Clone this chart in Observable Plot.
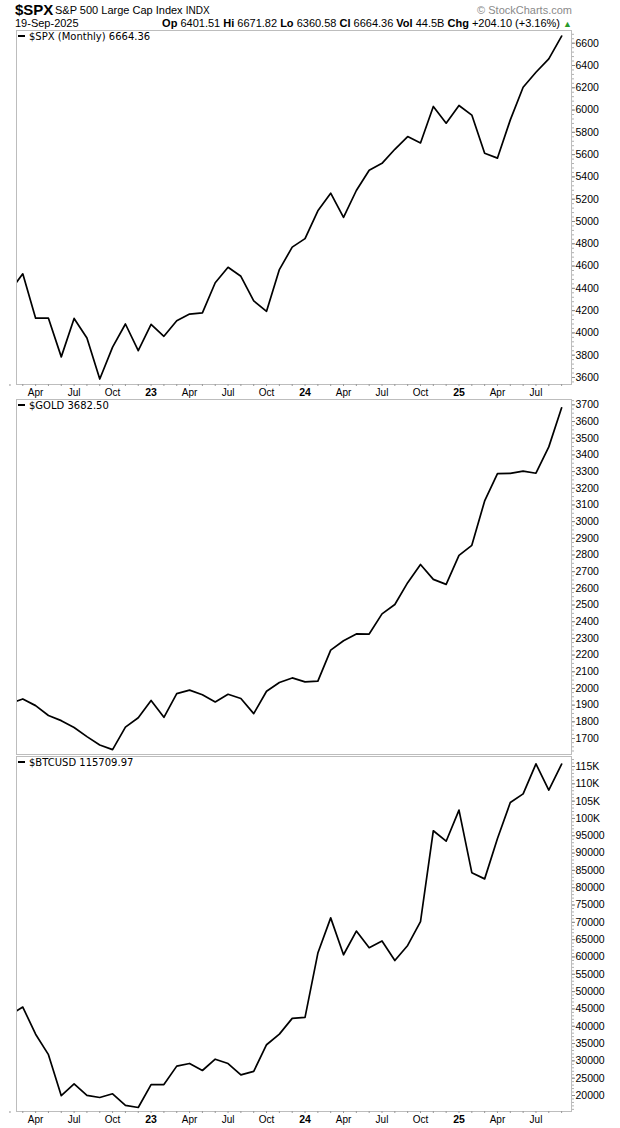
<!DOCTYPE html>
<html><head><meta charset="utf-8">
<script src="https://cdn.jsdelivr.net/npm/d3@7"></script>
<script src="https://cdn.jsdelivr.net/npm/@observablehq/plot@0.6"></script>
<style>
body{margin:0;background:#fff;width:620px;height:1128px;position:relative;overflow:hidden;font-family:"Liberation Sans",Arial,sans-serif;color:#000;}
.a{position:absolute;white-space:nowrap;line-height:1;}
.leg{font-family:"DejaVu Sans",sans-serif;font-size:10px;background:#fff;}
.leg b{display:inline-block;width:7px;height:2px;background:#000;vertical-align:middle;margin-right:4px;position:relative;top:-1px;}
</style></head><body>
<div class="a" style="left:15px;top:2px;font-weight:bold;font-size:15px;line-height:15px;">$SPX</div>
<div class="a" style="left:55px;top:5px;font-size:11px;">S&amp;P 500 Large Cap Index <span style="font-size:10px">INDX</span></div>
<div class="a" style="right:48px;top:5px;font-size:11px;color:#8a8a8a;">© StockCharts.com</div>
<div class="a" style="left:15px;top:18px;font-size:11px;">19-Sep-2025</div>
<div class="a" style="right:48px;top:18px;font-size:11px;"><b>Op</b> 6401.51 <b>Hi</b> 6671.82 <b>Lo</b> 6360.58 <b>Cl</b> 6664.36 <b>Vol</b> 44.5B <b>Chg</b> +204.10 (+3.16%) <span style="color:#2a9a2a;font-size:9px">▲</span></div>
<div id="p1" class="a" style="left:0;top:29px;"></div>
<div id="p2" class="a" style="left:0;top:398px;"></div>
<div id="p3" class="a" style="left:0;top:755px;"></div>
<div class="a leg" style="left:18px;top:32px;"><b></b>$SPX (Monthly) 6664.36</div>
<div class="a leg" style="left:18px;top:401px;"><b></b>$GOLD 3682.50</div>
<div class="a leg" style="left:18px;top:758px;"><b></b>$BTCUSD 115709.97</div>
<script>
// Monthly closes, Feb 2022 .. Sep 2025 (index 0 = Feb 2022)
const months = ["2022-02","2022-03","2022-04","2022-05","2022-06","2022-07","2022-08","2022-09","2022-10","2022-11","2022-12",
"2023-01","2023-02","2023-03","2023-04","2023-05","2023-06","2023-07","2023-08","2023-09","2023-10","2023-11","2023-12",
"2024-01","2024-02","2024-03","2024-04","2024-05","2024-06","2024-07","2024-08","2024-09","2024-10","2024-11","2024-12",
"2025-01","2025-02","2025-03","2025-04","2025-05","2025-06","2025-07","2025-08","2025-09"];
const spx = [4374,4530,4132,4132,3785,4130,3955,3586,3872,4080,3840,
4077,3970,4109,4169,4180,4450,4589,4508,4288,4194,4568,4770,
4846,5096,5254,5036,5278,5460,5522,5648,5762,5705,6032,5882,
6041,5955,5612,5569,5912,6205,6339,6460,6664];
const gold = [1909,1937,1897,1838,1807,1766,1711,1661,1633,1768,1824,
1928,1827,1969,1990,1962,1919,1965,1940,1849,1983,2036,2063,
2039,2044,2230,2286,2327,2326,2447,2503,2634,2743,2654,2624,
2798,2858,3124,3288,3289,3303,3290,3448,3682];
const btc = [43190,45540,37700,31800,19930,23330,20050,19430,20500,17170,16540,
23140,23150,28480,29250,27220,30480,29230,25940,26970,34660,37720,42270,
42580,61130,71290,60640,67490,62680,64620,58970,63330,70220,96450,93430,
102400,84350,82550,94200,104600,107100,115750,108200,115710];
const xTickIdx = [2,5,8,11,14,17,20,23,26,29,32,35,38,41];
const xTickLabels = ["Apr","Jul","Oct","23","Apr","Jul","Oct","24","Apr","Jul","Oct","25","Apr","Jul"];
const spxTicks = [3600,3800,4000,4200,4400,4600,4800,5000,5200,5400,5600,5800,6000,6200,6400,6600];
const goldTicks = [1700,1800,1900,2000,2100,2200,2300,2400,2500,2600,2700,2800,2900,3000,3100,3200,3300,3400,3500,3600,3700];
const btcTicks = [20000,25000,30000,35000,40000,45000,50000,55000,60000,65000,70000,75000,80000,85000,90000,95000,100000,105000,110000,115000];

const xDomain = [0.51, 43.77];
const W = 620, ML = 16, MR = 49;
const FF = "Liberation Sans, Arial, sans-serif";

function panel(el, values, yDomain, yTicks, minorStep, fmt, frameH, showX) {
  const data = values.map((v, i) => ({i, v, m: months[i]}));
  const monthIdx = months.map((m, i) => i);
  const yearSet = new Set(["23","24","25"]);
  const lab = new Map(xTickIdx.map((d, k) => [d, xTickLabels[k]]));
  const minor = d3.range(Math.ceil(yDomain[0] / minorStep) * minorStep, yDomain[1], minorStep);
  const marks = [
    Plot.line(data, {x: "i", y: "v", stroke: "#000", strokeWidth: 1.7, clip: true}),
    Plot.frame({stroke: "#bdbdbd"}),
    Plot.axisY({anchor: "right", ticks: minor, tickSize: 2, stroke: "#b0b0b0", tickFormat: () => "", label: null}),
    Plot.axisY({anchor: "right", ticks: yTicks, tickSize: 3, tickPadding: 1, stroke: "#888", tickFormat: fmt,
      fontSize: 10.5, fontFamily: FF, fill: "#000", label: null}),
    Plot.axisX({ticks: monthIdx, tickSize: showX ? 2 : 0, stroke: "#999", tickFormat: () => "", label: null})
  ];
  if (showX) {
    marks.push(Plot.axisX({ticks: xTickIdx.filter(d => !yearSet.has(lab.get(d))), tickSize: 0, tickPadding: 4,
      tickFormat: d => lab.get(d), fontSize: 10, fontFamily: FF, fill: "#000", label: null}));
    marks.push(Plot.axisX({ticks: xTickIdx.filter(d => yearSet.has(lab.get(d))), tickSize: 0, tickPadding: 4,
      tickFormat: d => lab.get(d), fontSize: 10.5, fontWeight: "bold", fontFamily: FF, fill: "#000", label: null}));
  }
  const mb = showX ? 16 : 2;
  const p = Plot.plot({
    width: W, height: 1 + frameH + mb,
    marginLeft: ML, marginRight: MR, marginTop: 1, marginBottom: mb,
    x: {type: "linear", domain: xDomain, label: null},
    y: {type: "linear", domain: yDomain, label: null},
    style: {background: "transparent", overflow: "visible"},
    marks
  });
  document.getElementById(el).appendChild(p);
}

panel("p1", spx, [3537, 6714], spxTicks, 40, d => String(d), 354, true);
panel("p2", gold, [1604, 3732], goldTicks, 25, d => String(d), 355, false);
panel("p3", btc, [15381, 117887], btcTicks, 1000, d => d >= 100000 ? (d / 1000) + "K" : String(d), 355, true);
</script>
</body></html>
